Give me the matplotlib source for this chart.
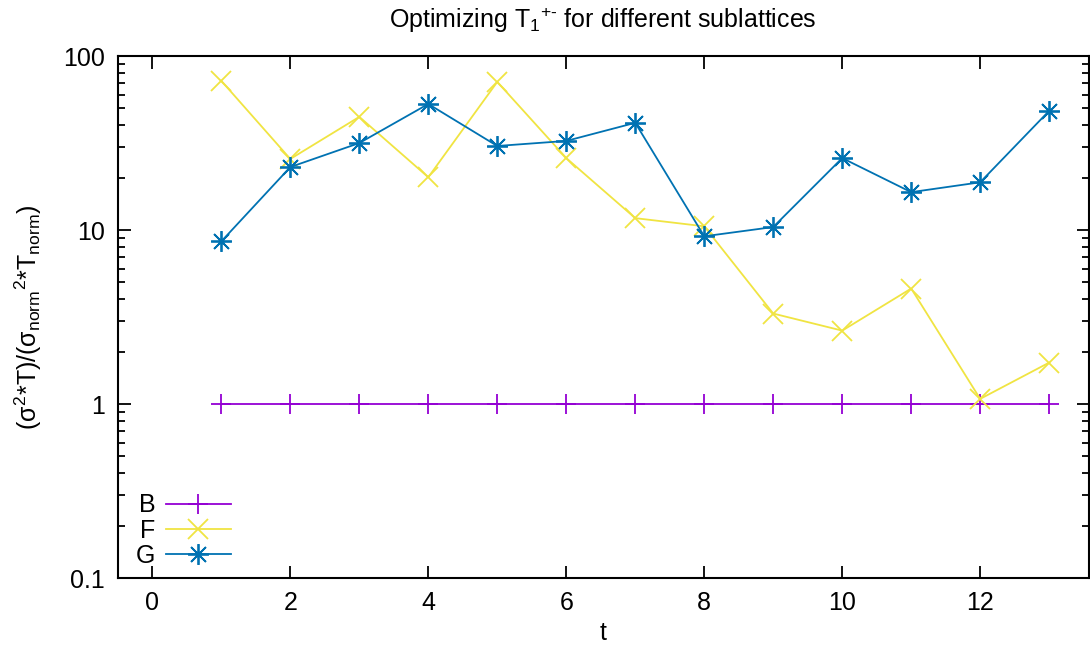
import matplotlib
matplotlib.use('Agg')
import matplotlib.pyplot as plt
from matplotlib.ticker import LogLocator, NullFormatter

plt.rcParams['font.family'] = ['Liberation Sans', 'DejaVu Sans']
plt.rcParams['mathtext.fontset'] = 'custom'
plt.rcParams['mathtext.rm'] = 'Liberation Sans'
plt.rcParams['mathtext.it'] = 'Liberation Sans'

t = [1, 2, 3, 4, 5, 6, 7, 8, 9, 10, 11, 12, 13]
B = [1, 1, 1, 1, 1, 1, 1, 1, 1, 1, 1, 1, 1]
F = [72, 25.6, 44.7, 20.1, 71, 25.9, 11.7, 10.5, 3.31, 2.64, 4.61, 1.07, 1.73]
G = [8.6, 23, 31.6, 53, 30.4, 32.5, 41.3, 9.2, 10.4, 25.9, 16.5, 18.8, 48.4]

fs = 18

fig = plt.figure(figsize=(10.9, 6.5), dpi=100)
ax = fig.add_axes([117.5/1090, 1-578/650, (1088.5-117.5)/1090, (578-56)/650])

ax.plot(t, B, color='#9400d3', marker='+', markersize=14, mew=1.3, lw=1.3, label='B')
ax.plot(t, F, color='#f0e442', marker='x', markersize=14, mew=1.3, lw=1.3, label='F')
ax.plot(t, G, color='#0072b2', marker=(8, 2, 0), markersize=15, mew=1.3, lw=1.3, label='G')

ax.set_yscale('log')
ax.set_ylim(0.1, 100)
ax.set_xlim(-0.505, 13.57)
ax.set_xticks([0, 2, 4, 6, 8, 10, 12])
ax.set_yticks([0.1, 1, 10, 100])
ax.set_yticklabels(['0.1', '1', '10', '100'])
ax.yaxis.set_minor_locator(LogLocator(base=10, subs=range(2, 10)))
ax.yaxis.set_minor_formatter(NullFormatter())
ax.tick_params(which='both', direction='in', top=True, right=True, labelsize=fs, width=1.3, pad=9)
ax.tick_params(which='major', length=9)
ax.tick_params(which='minor', length=5)
for s in ax.spines.values():
    s.set_linewidth(1.5)

ax.set_title(r'Optimizing T$_1$$^{+\text{-}}$ for different sublattices', fontsize=fs, pad=20)
ax.set_xlabel('t', fontsize=fs, labelpad=5)
ax.set_ylabel(r'($\sigma^2$*T)/($\sigma_{norm}$$^2$*T$_{norm}$)', fontsize=fs, labelpad=14)

leg = ax.legend(loc='lower left', bbox_to_anchor=(0.009, 0.0), frameon=False, fontsize=fs,
                markerfirst=False, handlelength=2.6, handletextpad=0.4, labelspacing=0.05,
                borderaxespad=0.0)

fig.savefig('out.png', dpi=100)
